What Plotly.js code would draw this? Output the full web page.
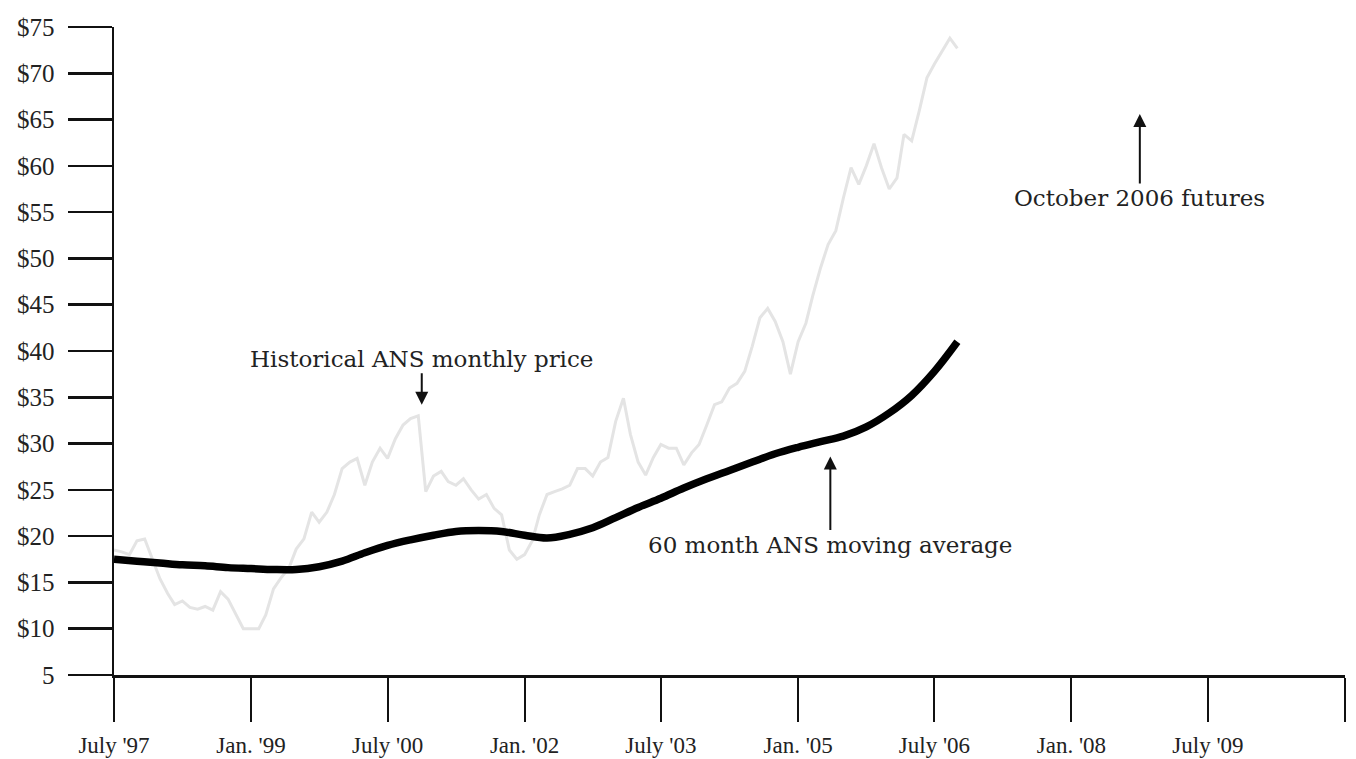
<!DOCTYPE html>
<html>
<head>
<meta charset="utf-8">
<script src="https://cdn.plot.ly/plotly-3.0.1.min.js"></script>
<style>html,body{margin:0;padding:0;background:#fff}#chart{width:1356px;height:759px}</style>
</head>
<body>
<div id="chart"></div>
<script>
// Historical ANS monthly price, July 1997 onward (one value per month)
const priceStart = [1997, 7];
const priceValues = [
  18.5, 18.3, 18.0, 19.5, 19.7, 17.5, 15.4, 13.8, 12.6, 13.0, 12.3, 12.1,
  12.4, 12.0, 14.0, 13.2, 11.5, 10.0, 10.0, 10.0, 11.5, 14.3, 15.5, 16.5,
  18.6, 19.7, 22.6, 21.5, 22.6, 24.5, 27.3, 28.0, 28.4, 25.5, 28.0, 29.5,
  28.4, 30.5, 32.0, 32.7, 33.0, 24.8, 26.5, 27.0, 25.9, 25.5, 26.2, 25.0,
  24.0, 24.5, 23.0, 22.3, 18.5, 17.5, 18.0, 19.5, 22.3, 24.5, 24.8, 25.1,
  25.5, 27.3, 27.3, 26.5, 28.0, 28.5, 32.4, 34.9, 31.0, 28.0, 26.6, 28.5,
  29.9, 29.5, 29.5, 27.7, 29.0, 29.9, 32.0, 34.2, 34.5, 36.0, 36.5, 37.8,
  40.5, 43.6, 44.6, 43.2, 41.0, 37.5, 41.0, 43.0, 46.0, 49.0, 51.5, 53.0,
  56.5, 59.8, 58.0, 60.0, 62.4, 59.8, 57.5, 58.7, 63.4, 62.7, 65.9, 69.5,
  71.0, 72.4, 73.8, 72.7
];
// 60 month ANS moving average, one value every 3 months from July 1997
const avgStepMonths = 3;
const avgValues = [
  17.5, 17.3, 17.1, 16.9, 16.8, 16.6, 16.5, 16.4, 16.4, 16.7,
  17.3, 18.2, 19.0, 19.6, 20.1, 20.5, 20.6, 20.5, 20.1, 19.8,
  20.2, 20.9, 22.0, 23.1, 24.1, 25.2, 26.2, 27.1, 28.0, 28.9,
  29.6, 30.2, 30.8, 31.8, 33.3, 35.2, 37.8, 41.0
];
// axis ticks
const xTickDates = ['1997-07-01','1999-01-01','2000-07-01','2002-01-01','2003-07-01','2005-01-01','2006-07-01','2008-01-01','2009-07-01','2011-01-01'];
const xTickLabels = ["July '97","Jan. '99","July '00","Jan. '02","July '03","Jan. '05","July '06","Jan. '08","July '09",""];
const yTickVals = [5,10,15,20,25,30,35,40,45,50,55,60,65,70,75];
const yTickLabels = ["5","$10","$15","$20","$25","$30","$35","$40","$45","$50","$55","$60","$65","$70","$75"];

function monthDate(start, offset) {
  const total = start[0]*12 + (start[1]-1) + offset;
  const y = Math.floor(total/12), m = total%12 + 1;
  return y + '-' + String(m).padStart(2,'0') + '-01';
}
const priceDates = priceValues.map((v,i) => monthDate(priceStart, i));
const avgDates = avgValues.map((v,i) => monthDate(priceStart, i*avgStepMonths));

const font = 'Liberation Serif, Times New Roman, serif';
const traces = [
  {x: priceDates, y: priceValues, type: 'scatter', mode: 'lines',
   line: {color: '#e4e4e4', width: 3}, hoverinfo: 'skip', name: 'Historical ANS monthly price'},
  {x: avgDates, y: avgValues, type: 'scatter', mode: 'lines',
   line: {color: '#000', width: 7.5, shape: 'spline', smoothing: 1}, name: '60 month ANS moving average'}
];
const annFont = {family: 'DejaVu Serif, serif', size: 23, color: '#222'};
const layout = {
  width: 1356, height: 759,
  margin: {l: 114, r: 11, t: 27, b: 84},
  paper_bgcolor: '#fff', plot_bgcolor: '#fff',
  showlegend: false,
  font: {family: font, color: '#222'},
  xaxis: {
    type: 'date', range: ['1997-07-01','2011-01-01'],
    tickmode: 'array', tickvals: xTickDates, ticktext: xTickLabels,
    ticks: 'outside', ticklen: 44, tickwidth: 2, tickcolor: '#111',
    showline: true, linecolor: '#111', linewidth: 2.5,
    showgrid: false, zeroline: false,
    tickfont: {family: font, size: 23, color: '#222'},
    ticklabelstandoff: 4
  },
  yaxis: {
    range: [5, 75],
    tickmode: 'array', tickvals: yTickVals, ticktext: yTickLabels,
    ticks: 'outside', ticklen: 44, tickwidth: 2.5, tickcolor: '#111',
    showline: true, linecolor: '#111', linewidth: 2.5,
    showgrid: false, zeroline: false,
    tickfont: {family: font, size: 25, color: '#222'},
    ticklabelstandoff: 8
  },
  annotations: [
    {x: '2000-11-15', y: 34.2, xref: 'x', yref: 'y', text: 'Historical ANS monthly price',
     showarrow: true, arrowhead: 2, arrowsize: 1.3, arrowwidth: 2, arrowcolor: '#111',
     ax: 0, ay: -46, font: annFont},
    {x: '2005-05-10', y: 28.6, xref: 'x', yref: 'y', text: '60 month ANS moving average',
     showarrow: true, arrowhead: 2, arrowsize: 1.3, arrowwidth: 2, arrowcolor: '#111',
     ax: 0, ay: 88, font: annFont},
    {x: '2008-10-01', y: 65.6, xref: 'x', yref: 'y', text: 'October 2006 futures',
     showarrow: true, arrowhead: 2, arrowsize: 1.3, arrowwidth: 2, arrowcolor: '#111',
     ax: 0, ay: 84, font: annFont}
  ]
};
Plotly.newPlot('chart', traces, layout, {displayModeBar: false, staticPlot: true});
</script>
</body>
</html>
